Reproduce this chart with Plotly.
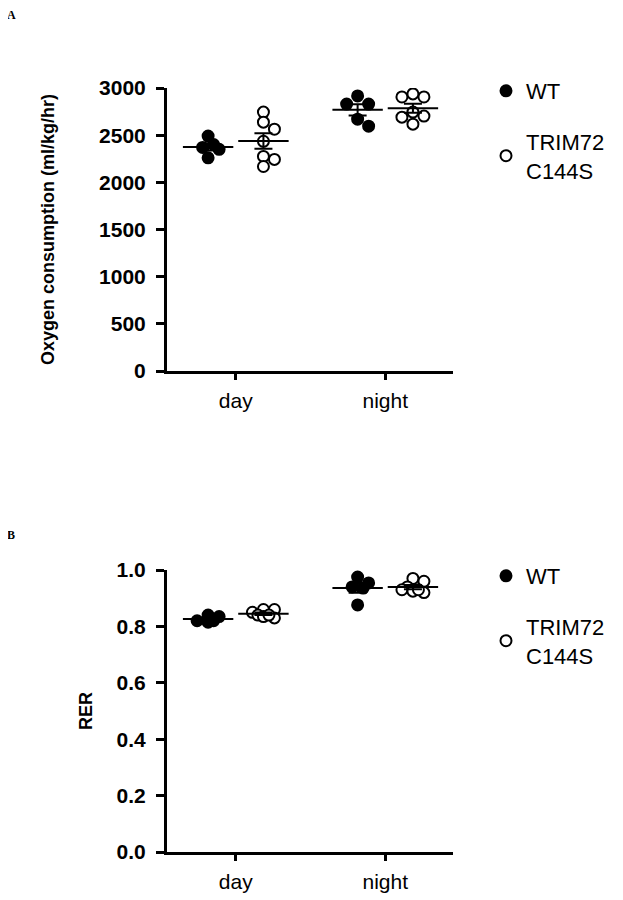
import numpy as np
import plotly.graph_objects as go

# groups and series
periods = ["day", "night"]
groups = ["WT", "TRIM72<br>C144S"]

# oxygen consumption (ml/kg/hr), per animal
vo2_wt_day = [2490, 2400, 2370, 2350, 2260]
vo2_ki_day = [2745, 2638, 2563, 2435, 2275, 2243, 2168]
vo2_wt_night = [2830, 2830, 2916, 2670, 2595]
vo2_ki_night = [2905, 2905, 2937, 2745, 2702, 2691, 2617]

# respiratory exchange ratio, per animal
rer_wt_day = [0.84, 0.835, 0.82, 0.82, 0.815]
rer_ki_day = [0.86, 0.86, 0.85, 0.84, 0.835, 0.83, 0.84]
rer_wt_night = [0.954, 0.94, 0.975, 0.936, 0.876]
rer_ki_night = [0.97, 0.96, 0.94, 0.93, 0.92, 0.925, 0.93]

vo2_ticks = [0, 500, 1000, 1500, 2000, 2500, 3000]
rer_ticks = [0.0, 0.2, 0.4, 0.6, 0.8, 1.0]

FONT = "Liberation Sans, Arial, sans-serif"
PAD = 8  # page body margin of the html page
W, H = 623 - PAD, 900 - PAD


def px_x(p):
    return (p - PAD) / W


def px_y(p):
    return 1 - (p - PAD) / H


X_DOM = [px_x(167), px_x(453)]
X_RANGE = [0.54, 2.453]
PX_PER_X = (453 - 167) / (X_RANGE[1] - X_RANGE[0])
OFFSET = 0.185
MARKER = 11


def swarm(values, center, px_per_y, diam=MARKER, max_px=12):
    """spread near-equal points sideways (simple beeswarm)"""
    order = np.argsort(values)[::-1]
    placed = []
    xs = np.zeros(len(values))
    cands = [0.0]
    step = diam / 2
    k = 1
    while k * step <= max_px:
        cands += [k * step, -k * step]
        k += 1
    for i in order:
        yp = values[i] * px_per_y
        best, best_pen = 0.0, None
        for c in cands:
            pen = 0.0
            for px, py in placed:
                d = np.hypot(c - px, yp - py)
                pen = max(pen, diam - d)
            pen = round(pen / 2)
            if best_pen is None or pen < best_pen:
                best, best_pen = c, pen
        placed.append((best, yp))
        xs[i] = center + best / PX_PER_X
    return xs


fig = go.Figure()


def add_panel(series, xa, ya, px_per_y, legend):
    for j, period_vals in enumerate(series):
        for g, vals in enumerate(period_vals):
            vals = np.array(vals, dtype=float)
            c = j + 1 + (-OFFSET if g == 0 else OFFSET)
            xs = swarm(vals, c, px_per_y)
            fig.add_trace(go.Scatter(
                x=xs, y=vals, mode="markers", xaxis=xa, yaxis=ya,
                name=groups[g], legend=legend, legendgroup=groups[g],
                showlegend=(j == 0),
                marker=dict(size=MARKER, symbol="circle",
                            color="black" if g == 0 else "white",
                            line=dict(color="black", width=2)),
                hoverinfo="y",
            ))
            mean = vals.mean()
            sem = vals.std(ddof=1) / np.sqrt(len(vals))
            fig.add_trace(go.Scatter(
                x=[c], y=[mean], mode="markers", xaxis=xa, yaxis=ya,
                showlegend=False, hoverinfo="y",
                marker=dict(symbol="line-ew", size=36,
                            line=dict(color="black", width=2)),
                error_y=dict(type="data", array=[sem], width=9,
                             thickness=2, color="black"),
            ))


add_panel([[vo2_wt_day, vo2_ki_day], [vo2_wt_night, vo2_ki_night]],
          "x", "y", (371 - 88) / 3000, "legend")
add_panel([[rer_wt_day, rer_ki_day], [rer_wt_night, rer_ki_night]],
          "x2", "y2", (852 - 570) / 1.0, "legend2")

xaxis_style = dict(
    domain=X_DOM, range=X_RANGE, tickvals=[1, 2], ticktext=periods,
    showline=True, linewidth=3, linecolor="black", ticks="outside",
    ticklen=6, tickwidth=2.5, tickcolor="black", showgrid=False,
    zeroline=False, ticklabelstandoff=3,
    tickfont=dict(family=FONT, size=21, color="black"),
)
yaxis_style = dict(
    showline=True, linewidth=3, linecolor="black", ticks="outside",
    ticklen=8, tickwidth=2.5, tickcolor="black", showgrid=False,
    zeroline=False, ticklabelstandoff=6,
    tickfont=dict(family=FONT, size=21, color="black", weight="bold"),
)

legend_style = dict(
    x=px_x(486), xanchor="left", yanchor="top", traceorder="grouped",
    tracegroupgap=19, bgcolor="rgba(0,0,0,0)",
    font=dict(family=FONT, size=22, color="black"),
)

fig.update_layout(
    width=W, height=H, plot_bgcolor="white", paper_bgcolor="white",
    margin=dict(l=0, r=0, t=0, b=0, autoexpand=False),
    xaxis=dict(xaxis_style, anchor="y"),
    yaxis=dict(yaxis_style, domain=[px_y(371), px_y(88)], range=[0, 3000],
               tickvals=vo2_ticks, anchor="x",
               title=dict(text="<b>Oxygen consumption (ml/kg/hr)</b>",
                          font=dict(family=FONT, size=18, color="black"),
                          standoff=40)),
    xaxis2=dict(xaxis_style, anchor="y2"),
    yaxis2=dict(yaxis_style, domain=[px_y(852), px_y(570)], range=[0, 1.0],
                tickvals=rer_ticks, tickformat=".1f", anchor="x2",
                title=dict(text="<b>RER</b>",
                           font=dict(family=FONT, size=18, color="black"),
                           standoff=20)),
    legend=dict(legend_style, y=px_y(70)),
    legend2=dict(legend_style, y=px_y(555)),
    annotations=[
        dict(text="<b>A</b>", x=px_x(5), y=px_y(6), xref="paper", yref="paper",
             xanchor="left", yanchor="top", showarrow=False,
             font=dict(family="Liberation Serif, serif", size=12, color="black")),
        dict(text="<b>B</b>", x=px_x(5), y=px_y(526), xref="paper", yref="paper",
             xanchor="left", yanchor="top", showarrow=False,
             font=dict(family="Liberation Serif, serif", size=12, color="black")),
    ],
)

fig.write_html("out.html")
